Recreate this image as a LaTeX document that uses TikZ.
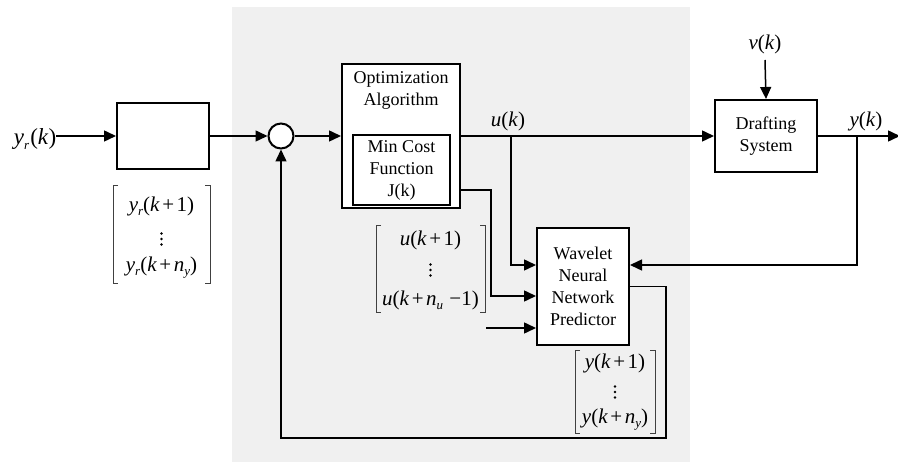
\documentclass[tikz,border=0pt]{standalone}
\usepackage{fontspec}
\setmainfont{Liberation Serif}
\usetikzlibrary{arrows.meta,calc}
\newcommand\iv[1]{\textit{#1}}
\newcommand\sbs[1]{\raisebox{-0.2em}{\fontsize{13}{13}\selectfont\textit{#1}}}
\newcommand\pl{\hspace{0.12em}+\hspace{0.12em}}
\newcommand\mybrk[4]{%
  \draw[brk] (#1+5,#3) -- (#1,#3) -- (#1,#4) -- (#1+5,#4);
  \draw[brk] (#2-5,#3) -- (#2,#3) -- (#2,#4) -- (#2-5,#4);}
\newcommand\mydots[2]{%
  \fill (#1,#2-5.5) circle (1.3);
  \fill (#1,#2) circle (1.3);
  \fill (#1,#2+5.5) circle (1.3);}
\definecolor{bgGray}{HTML}{F0F0F0}
\begin{document}
\begin{tikzpicture}[x=1pt,y=-1pt,
  arr/.style={line width=1.5pt,-{Triangle[length=12pt,width=11pt]}},
  box/.style={draw,line width=2pt,fill=white,inner sep=0pt},
  txt/.style={font=\fontsize{18}{22}\selectfont,align=center,inner sep=0pt},
  mth/.style={font=\fontsize{21}{24}\selectfont,inner sep=0pt},
  brk/.style={line width=0.7pt,draw=black!75}]
\useasboundingbox (0,0) rectangle (898,462);
\fill[bgGray] (232,7) rectangle (690,462);

% blocks
\node[box,minimum width=92pt,minimum height=66pt] (pre) at (163,136) {};
\node[box,circle,minimum size=25pt] (sum) at (281,136) {};
\node[box,minimum width=118pt,minimum height=144pt] (opt) at (401,136) {};
\node[txt] (optlbl) at (401,90) {Optimization\\Algorithm};
\node[box,txt,minimum width=97pt,minimum height=70pt] (cost) at (401.5,170) {Min Cost\\Function\\J(k)};
\node[box,txt,minimum width=102pt,minimum height=72pt] (plant) at (766,136) {Drafting\\System};
\node[box,txt,minimum width=92pt,minimum height=117pt] (wnn) at (583,286.5) {Wavelet\\Neural\\Network\\Predictor};

% labels
\node[mth,font=\fontsize{23}{26}\selectfont] (yr) at (35,139) {\iv{y}\sbs{r}\hspace{0.05em}(\iv{k})};
\node[mth] (uk) at (508,121) {\iv{u}(\iv{k})};
\node[mth] (yk) at (866,121) {\iv{y}(\iv{k})};
\node[mth] (vk) at (765,44) {\iv{v}(\iv{k})};

% vectors
\mybrk{113}{210}{185}{283}
\node[mth] (yr1) at (161.5,206) {\iv{y}\sbs{r}(\iv{k}\pl 1)};
\mydots{161.5}{239}
\node[mth] (yr3) at (161.5,268) {\iv{y}\sbs{r}(\iv{k}\pl\iv{n}\sbs{y})};
\mybrk{376}{485}{225}{312}
\node[mth] (u1) at (430.5,240) {\iv{u}(\iv{k}\pl 1)};
\mydots{430.5}{270}
\node[mth] (u3) at (430.5,300) {\iv{u}(\iv{k}\pl\iv{n}\sbs{u}\hspace{0.3em}\textminus1)};
\mybrk{575}{655}{350}{433}
\node[mth] (y1) at (615,363) {\iv{y}(\iv{k}\pl 1)};
\mydots{615}{392}
\node[mth] (y3) at (615,420) {\iv{y}(\iv{k}\pl\iv{n}\sbs{y})};

% connectors
\coordinate (ub) at (511,136);
\coordinate (jb) at (491,190);
\coordinate (free) at (486,328);
\coordinate (yb) at (857,136);
\coordinate (out) at (900,136);
\coordinate (vtop) at (765,60);

\draw[arr] (yr.east |- pre.west) -- (pre.west);
\draw[arr] (pre.east) -- (sum.west);
\draw[arr] (sum.east) -- (opt.west);
\draw[arr] (opt.east) -- (plant.west);
\draw[arr] (ub) |- ([yshift=21.5pt]wnn.west);
\draw[arr] ([yshift=-54pt]opt.east) -- (jb) |- ([yshift=-9.5pt]wnn.west);
\draw[arr] (free) -- (free -| wnn.west);
\draw[arr] (plant.east) -- (out);
\draw[arr] (yb) |- ([yshift=21.5pt]wnn.east);
\draw[arr] (vtop) -- (plant.north);
\draw[arr] (wnn.east) -- ++(36,0) -- ++(0,151.5) -| (sum.south);
\end{tikzpicture}
\end{document}
